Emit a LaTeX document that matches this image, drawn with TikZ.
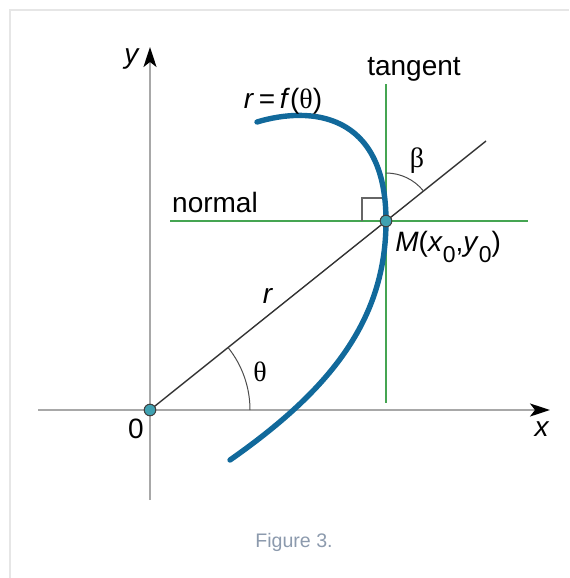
\documentclass[tikz,border=0pt]{standalone}
\usepackage{fontspec}
\setmainfont{Liberation Sans}
\newfontfamily\grk{Liberation Serif}
\usetikzlibrary{arrows.meta,positioning}
\definecolor{curveblue}{HTML}{11699B}
\definecolor{linegreen}{HTML}{45A552}
\definecolor{axisgray}{HTML}{A8A8A8}
\definecolor{dotteal}{HTML}{3FA1B1}
\definecolor{capgray}{HTML}{8C9AAD}
\definecolor{framegray}{HTML}{E6E6E6}
\newcommand{\lowsub}[1]{\raisebox{-0.42em}{\fontsize{11.5}{12}\selectfont #1}}

\begin{document}
\begin{tikzpicture}[
  x=0.5pt, y=-0.5pt,
  font=\fontsize{14}{16}\selectfont,
  axis/.style={draw=axisgray,line width=1pt,-{Stealth[length=10pt,width=6.5pt,inset=2.5pt,color=black]}},
  guide/.style={draw=linegreen,line width=1pt},
  ray/.style={draw=black!80,line width=0.7pt},
  anglearc/.style={draw=black!70,line width=0.5pt},
  curve/.style={draw=curveblue,line width=2.7pt,line cap=round},
  dot/.style={circle,inner sep=0pt,minimum size=5.8pt,fill=dotteal,draw=black!75,line width=0.5pt},
  lbl/.style={anchor=base,inner sep=0pt}]
\useasboundingbox (0,0) rectangle (569,578);
\draw[framegray,line width=1pt] (10,578) -- (10,10) -- (569,10);

% axes
\coordinate (xstart) at (38,410);
\coordinate (xend) at (550,410);
\coordinate (ystart) at (150,500);
\coordinate (yend) at (150,47);
\draw[axis] (xstart) -- (xend);
\draw[axis] (ystart) -- (yend);

% tangent and normal at M
\coordinate (ttop) at (386,84);
\coordinate (tbot) at (386,403);
\coordinate (nleft) at (170,221);
\coordinate (nright) at (528,221);
\draw[guide] (ttop) -- (tbot);
\draw[guide] (nleft) -- (nright);
\draw[black!60,line width=0.6pt] (362,221) -- (362,198) -- (386,198);

% ray through M
\coordinate (rend) at (486,141);
\draw[ray] (150,410) -- (rend);
\draw[anglearc] (250,410) arc[start angle=0,end angle=-38.7,radius=100];
\draw[anglearc] (386,173) arc[start angle=-90,end angle=-38.7,radius=48];

% the curve r = f(theta)
\draw[curve] (257,122) .. controls (310,106) and (386,112) .. (386,221)
  .. controls (386,320) and (330,390) .. (230,460);

\node[dot] (O) at (150,410) {};
\node[dot] (M) at (386,221) {};

% labels
\node[lbl] (ylab) at (132,63) {\textit{y}};
\node[lbl] (xlab) at (542,436) {\textit{x}};
\node[lbl] (zero) at (136,438) {0};
\node[lbl] (tang) at (414,75) {tangent};
\node[lbl] (norm) at (215,212) {normal};
\node[lbl] (rlab) at (268,303) {\textit{r}};
\node[lbl] (eqn) at (283,108) {\textit{r}\,=\,\textit{f}({\grk θ})};
\node[lbl,anchor=base west] (mlab) at (395,251) {\textit{M}(\textit{x}\lowsub{0},\textit{y}\lowsub{0})};
\node[lbl] (beta) at (417,167) {\grk β};
\node[lbl] (theta) at (260,381) {\grk θ};
\node[lbl,font=\fontsize{9.8}{12}\selectfont,text=capgray] (cap) at (294,547) {Figure 3.};
\end{tikzpicture}
\end{document}
